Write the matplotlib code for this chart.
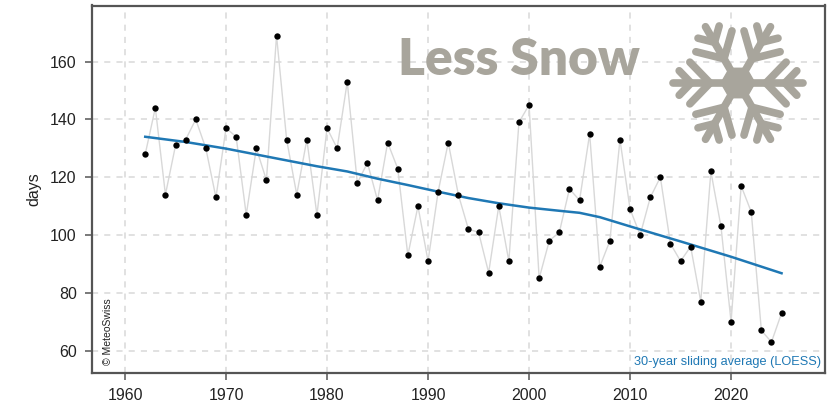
import numpy as np
from matplotlib import pyplot as plt

plt.rcParams['font.family'] = ['Liberation Sans', 'DejaVu Sans']

years = list(range(1962, 2026))
days = [128, 144, 114, 131, 133, 140, 130, 113, 137, 134, 107, 130, 119, 169, 133, 114,
        133, 107, 137, 130, 153, 118, 125, 112, 132, 123, 93, 110, 91, 115, 132, 114,
        102, 101, 87, 110, 91, 139, 145, 85, 98, 101, 116, 112, 135, 89, 98, 133,
        109, 100, 113, 120, 97, 91, 96, 77, 122, 103, 70, 117, 108, 67, 63, 73]

trend_years = [1962, 1966, 1970, 1975, 1979, 1982, 1985, 1988, 1991, 1994, 1997, 2000, 2003, 2005, 2007,
               2010, 2015, 2020, 2025]
trend_days = [134, 132.2, 129.9, 126.5, 123.8, 122, 119.5, 117.3, 115, 112.8, 111, 109.5, 108.4, 107.7, 106.2,
              103, 97.8, 92.5, 86.8]

xticks = [1960, 1970, 1980, 1990, 2000, 2010, 2020]
yticks = [60, 80, 100, 120, 140, 160]

W, H = 838, 405
grey = '#a8a59c'
frame = '#555555'

fig = plt.figure(figsize=(W / 100, H / 100), dpi=100)
ax = fig.add_axes([92 / W, 1 - 372.7 / H, (825 - 92) / W, (372.7 - 5.5) / H])

ax.grid(True, color='#d9d9d9', ls=(0, (4, 4)), lw=1.1)
ax.set_axisbelow(True)
ax.plot(years, days, color='#d8d8d8', lw=1.0, zorder=2)
ax.plot(trend_years, trend_days, color='#1f78b4', lw=1.8, zorder=3)
ax.scatter(years, days, s=21, color='black', zorder=4, linewidths=0)

ax.set_xlim(1956.73, 2029.3)
ax.set_ylim(52.4, 179.4)
ax.set_xticks(xticks)
ax.set_yticks(yticks)
ax.tick_params(labelsize=11.5, colors='#222222', length=5, width=1.1, color=frame, pad=6)
for s in ax.spines.values():
    s.set_color(frame)
    s.set_linewidth(1.6)
ax.set_ylabel('days', fontsize=11.5, color='#222222', labelpad=6)

ax.text(0.0145, 0.022, '© MeteoSwiss', transform=ax.transAxes, rotation=90, fontsize=7.5,
        color='#222222', ha='left', va='bottom')
ax.text(0.995, 0.013, '30-year sliding average (LOESS)', transform=ax.transAxes, fontsize=9.2,
        color='#1f78b4', ha='right', va='bottom')
ax.text(519 / W, 1 - 60 / H, 'Less Snow', transform=fig.transFigure, fontsize=37, fontweight='heavy',
        family='Lato', color=grey, ha='center', va='center', zorder=5)

# snowflake drawn in pixel units around its centre
fl = fig.add_axes([(738 - 75) / W, 1 - (83 + 75) / H, 150 / W, 150 / H])
fl.set_xlim(-75, 75)
fl.set_ylim(-75, 75)
fl.axis('off')
fl.patch.set_alpha(0)
for a in np.radians(np.arange(0, 360, 60)):
    fl.plot([0, 65 * np.cos(a)], [0, 65 * np.sin(a)], color=grey, lw=5.5, solid_capstyle='round')
    for r, n in [(28, 29), (47, 17)]:
        for d in [-46, 46]:
            b = a + np.radians(d)
            x0, y0 = r * np.cos(a), r * np.sin(a)
            fl.plot([x0, x0 + n * np.cos(b)], [y0, y0 + n * np.sin(b)], color=grey, lw=5.5,
                    solid_capstyle='round')
hex_a = np.radians(np.arange(0, 360, 60))
fl.fill(17 * np.cos(hex_a), 17 * np.sin(hex_a), color=grey)

fig.savefig('out.png', dpi=100)
